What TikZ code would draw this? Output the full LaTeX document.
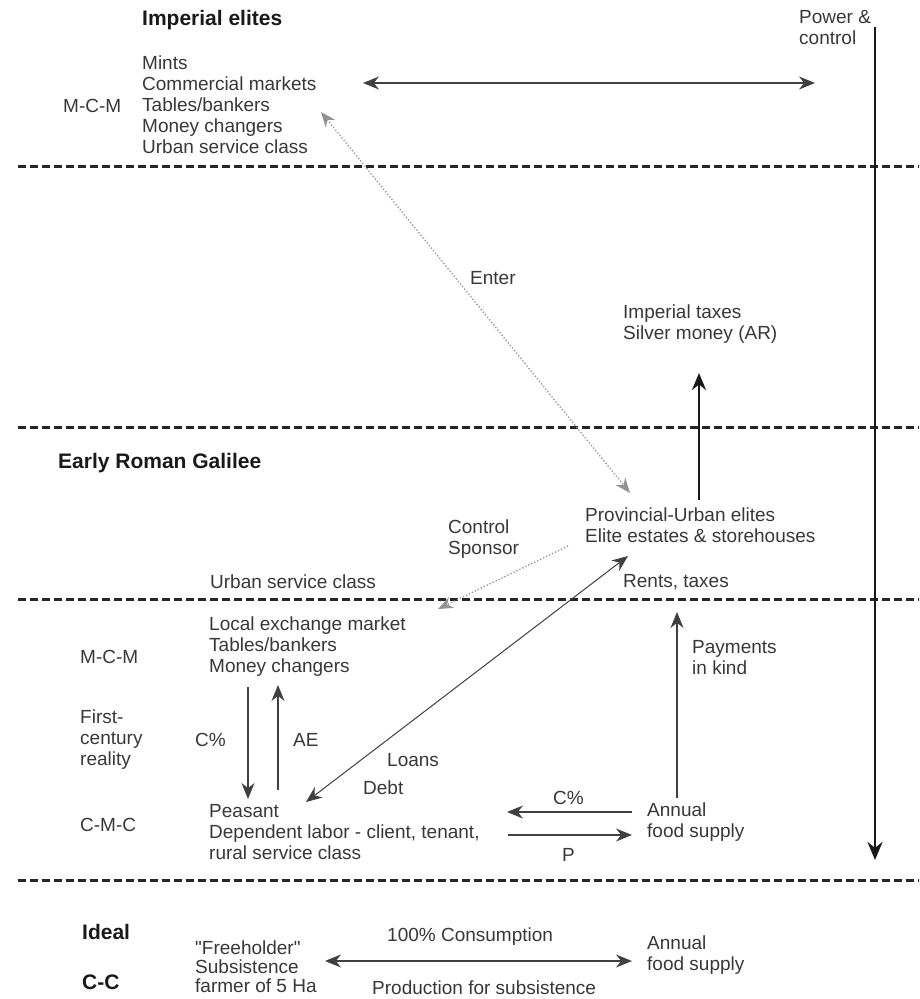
\documentclass[tikz,border=0pt]{standalone}
\usepackage{fontspec}
\setmainfont{Liberation Sans}
\newfontfamily\quotefont{Liberation Sans}
\usetikzlibrary{arrows.meta}

\tikzset{
  txt/.style={anchor=west, align=left, inner sep=0pt, text=black!78,
    font=\fontsize{19}{21}\selectfont},
  heading/.style={anchor=west, inner sep=0pt, text=black!90,
    font=\fontsize{21}{24}\selectfont\bfseries},
  level/.style={line width=3pt, black!85, dash pattern=on 8pt off 4pt},
  flow/.style={line width=1.4pt, black!75, -{Stealth[length=16pt,width=13pt]}},
  biflow/.style={flow, {Stealth[length=16pt,width=13pt]}-{Stealth[length=16pt,width=13pt]}},
  power/.style={line width=2.8pt, black!90, -{Stealth[length=18pt,width=15pt]}},
  link/.style={line width=1.3pt, gray!85, dotted},
}

\begin{document}
\begin{tikzpicture}[x=1pt, y=-1pt]
\useasboundingbox[fill=white] (0,0) rectangle (919,999);

% section borders
\draw[level] (18,166) -- (919,166);
\draw[level] (18,427) -- (919,427);
\draw[level] (18,599) -- (919,599);
\draw[level] (18,880) -- (919,880);

% imperial elites
\node[heading] (imp) at (142,20) {Imperial elites};
\node[txt] (impmkt) at (142,105) {Mints\\Commercial markets\\Tables/bankers\\Money changers\\Urban service class};
\node[txt] (impmcm) at (63,106) {M-C-M};
\node[txt] (pow) at (799,28) {Power \&\\control};
\coordinate (mktL) at (363,83);
\coordinate (mktR) at (815,83);
\draw[biflow] (mktL) -- (mktR);
\coordinate (powT) at (875,27);
\coordinate (powB) at (875,860);
\draw[power] (powT) -- (powB);

% between the levels
\node[txt] (enter) at (470,278) {Enter};
\node[txt] (taxes) at (623,324) {Imperial taxes\\Silver money (AR)};
\coordinate (taxB) at (699,500);
\coordinate (taxT) at (699,373);
\draw[power, -{Stealth[length=17pt,width=14pt]}] (taxB) -- (taxT);
\coordinate (entT) at (321,112);
\coordinate (entB) at (630,493);
\draw[link, {Stealth[length=15pt,width=12pt]}-{Stealth[length=15pt,width=12pt]}] (entT) -- (entB);

% early roman galilee
\node[heading] (gal) at (58,463) {Early Roman Galilee};
\node[txt] (prov) at (585,525) {Provincial-Urban elites\\Elite estates \& storehouses};
\node[txt] (ctrl) at (448,539) {Control\\Sponsor};
\node[txt] (urban) at (210,582) {Urban service class};
\node[txt] (rents) at (623,582) {Rents, taxes};
\coordinate (ctrlT) at (568,546);
\coordinate (ctrlB) at (438,609);
\draw[link, -{Stealth[length=15pt,width=12pt]}] (ctrlT) -- (ctrlB);

% local level
\node[txt] (local) at (209,647) {Local exchange market\\Tables/bankers\\Money changers};
\node[txt] (locmcm) at (80,657) {M-C-M};
\node[txt] (real) at (80,740) {First-\\century\\reality};
\node[txt] (cpc) at (195,740) {C\%};
\node[txt] (ae) at (293,740) {AE};
\node[txt] (loans) at (387,760) {Loans};
\node[txt] (debt) at (363,788) {Debt};
\node[txt] (peas) at (209,832) {Peasant\\Dependent labor - client, tenant,\\rural service class};
\node[txt] (cmc) at (80,825) {C-M-C};
\node[txt] (food) at (647,822) {Annual\\food supply};
\node[txt] (kind) at (692,658) {Payments\\in kind};
\node[txt] (cpc2) at (553,798) {C\%};
\node[txt] (p) at (562,855) {P};

\coordinate (cpT) at (248,687);
\coordinate (cpB) at (248,799);
\draw[flow] (cpT) -- (cpB);
\coordinate (aeB) at (278,790);
\coordinate (aeT) at (278,685);
\draw[flow] (aeB) -- (aeT);
\coordinate (loanB) at (306,802);
\coordinate (loanT) at (628,556);
\draw[biflow, line width=1pt] (loanB) -- (loanT);
\coordinate (kindB) at (677,798);
\coordinate (kindT) at (677,612);
\draw[flow] (kindB) -- (kindT);
\coordinate (cfR) at (632,812);
\coordinate (cfL) at (507,812);
\draw[flow] (cfR) -- (cfL);
\coordinate (pL) at (508,835);
\coordinate (pR) at (632,835);
\draw[flow] (pL) -- (pR);

% ideal
\node[heading] (ideal) at (82,932) {Ideal};
\node[heading] (cc) at (82,982) {C-C};
\node[txt, font=\fontsize{19}{19}\selectfont] (free) at (195,967) {{\quotefont"}Freeholder{\quotefont"}\\Subsistence\\farmer of 5 Ha};
\node[txt] (cons) at (387,937) {100\% Consumption};
\node[txt] (prod) at (372,988) {Production for subsistence};
\node[txt] (food2) at (647,955) {Annual\\food supply};
\coordinate (subL) at (325,961);
\coordinate (subR) at (632,961);
\draw[biflow] (subL) -- (subR);
\end{tikzpicture}
\end{document}
